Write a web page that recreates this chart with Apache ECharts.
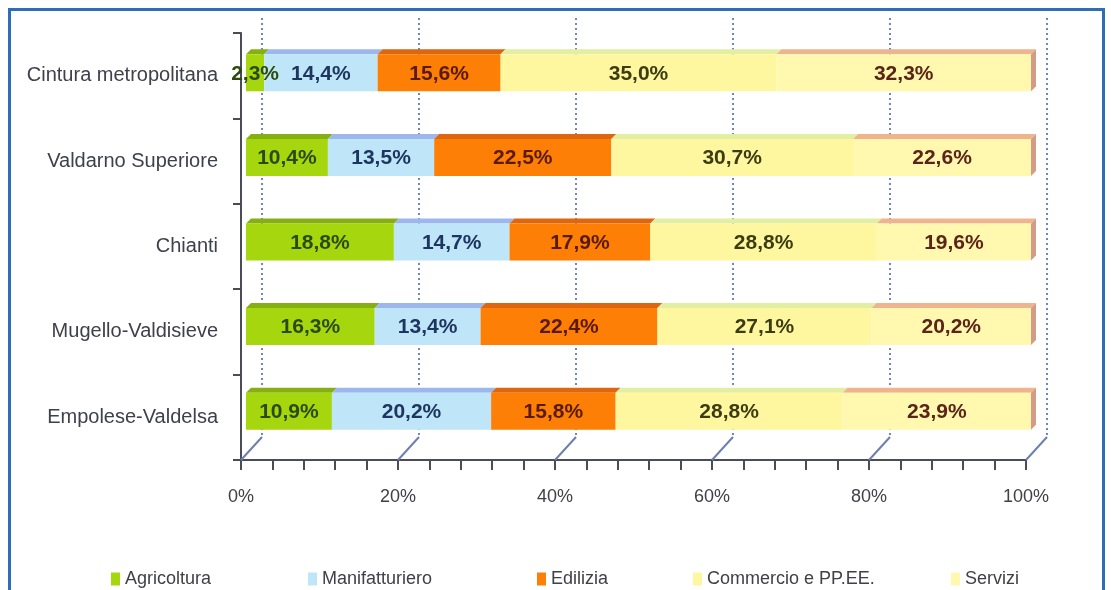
<!DOCTYPE html>
<html>
<head>
<meta charset="utf-8">
<script src="https://cdn.jsdelivr.net/npm/echarts@6/dist/echarts.min.js"></script>
<style>
  html, body { margin: 0; padding: 0; background: #ffffff; }
  #chart { width: 1111px; height: 590px; }
</style>
</head>
<body>
<div id="chart"></div>
<script>
// Territorial areas (top to bottom)
const categories = ['Cintura metropolitana', 'Valdarno Superiore', 'Chianti', 'Mugello-Valdisieve', 'Empolese-Valdelsa'];
const sectors = ['Agricoltura', 'Manifatturiero', 'Edilizia', 'Commercio e PP.EE.', 'Servizi'];

// Share of each sector, in percent
const agricoltura    = [2.3, 10.4, 18.8, 16.3, 10.9];
const manifatturiero = [14.4, 13.5, 14.7, 13.4, 20.2];
const edilizia       = [15.6, 22.5, 17.9, 22.4, 15.8];
const commercio      = [35.0, 30.7, 28.8, 27.1, 28.8];
const servizi        = [32.3, 22.6, 19.6, 20.2, 23.9];

const xTicks = [0, 20, 40, 60, 80, 100];

const FONT = '"Liberation Sans", Arial, sans-serif';

// Pseudo-3D layout: front axes, bars in the middle, back wall behind
const FRONT = { left: 241, right: 1026, top: 33, bottom: 460 };
const BARS  = { left: 246, right: 1031, top: 28, bottom: 451 };
const BACK  = { left: 262, right: 1047, top: 18, bottom: 437 };
const DEPTH = 5;
const BAR_H = 42;

const faceColors  = ['#A6D60E', '#BEE6F8', '#FD7F06', '#FFF7A0', '#FFF8AE'];
const topColors   = ['#86AF12', '#9DB7EC', '#DD660E', '#E2EEA2', '#EDB48E'];
const labelColors = ['#2C4A0C', '#1E3560', '#5A1A02', '#3C3C12', '#5A2418'];
const sideColor   = '#D49C86';

const values = [agricoltura, manifatturiero, edilizia, commercio, servizi];
// 100% stacking: each row is scaled by its own total
const totals = categories.map((c, i) => values.reduce((s, arr) => s + arr[i], 0));

function seriesData(k) {
  return categories.map((c, i) => {
    let start = 0;
    for (let j = 0; j < k; j++) start += values[j][i] / totals[i] * 100;
    const end = start + values[k][i] / totals[i] * 100;
    return [start, end, i, values[k][i]];
  });
}

const fmt = v => v.toFixed(1).replace('.', ',') + '%';

function makeRender(k) {
  return function (params, api) {
    const cat = api.value(2);
    const p0 = api.coord([api.value(0), cat]);
    const p1 = api.coord([api.value(1), cat]);
    const top = p0[1] - BAR_H / 2, bottom = p0[1] + BAR_H / 2;
    const x0 = p0[0], x1 = p1[0], d = DEPTH;
    const children = [
      { type: 'polygon', shape: { points: [[x0, top + d], [x1, top + d], [x1 + d, top], [x0 + d, top]] },
        style: { fill: topColors[k] } },
      { type: 'rect', shape: { x: x0, y: top + d, width: x1 - x0, height: BAR_H - d },
        style: { fill: faceColors[k] } }
    ];
    if (k === values.length - 1) {
      children.push({ type: 'polygon',
        shape: { points: [[x1, top + d], [x1 + d, top], [x1 + d, bottom - d], [x1, bottom]] },
        style: { fill: sideColor } });
    }
    children.push({ type: 'text', z2: 100,
      style: { text: fmt(api.value(3)), x: (x0 + x1) / 2, y: (top + d + bottom) / 2 + 1,
        align: 'center', verticalAlign: 'middle', fill: labelColors[k],
        fontSize: 21, fontWeight: 'bold', fontFamily: FONT } });
    return { type: 'group', children };
  };
}

const legendLeft = [106, 303, 532, 688, 946];

const chart = echarts.init(document.getElementById('chart'), null, { renderer: 'canvas' });

const option = {
  animation: false,
  backgroundColor: '#ffffff',
  grid: [
    { left: BARS.left, width: BARS.right - BARS.left, top: BARS.top, height: BARS.bottom - BARS.top },
    { left: FRONT.left, width: FRONT.right - FRONT.left, top: FRONT.top, height: FRONT.bottom - FRONT.top },
    { left: BACK.left, width: BACK.right - BACK.left, top: BACK.top, height: BACK.bottom - BACK.top }
  ],
  xAxis: [
    { gridIndex: 0, type: 'value', min: 0, max: 100, show: false },
    { gridIndex: 1, type: 'value', min: 0, max: 100, interval: 4,
      axisLine: { show: true, lineStyle: { color: '#4A4D58', width: 2 } },
      axisTick: { show: true, length: 10, lineStyle: { color: '#4A4D58', width: 2 } },
      splitLine: { show: false },
      axisLabel: { margin: 28, fontSize: 18, color: '#404048', fontFamily: FONT,
        formatter: v => (xTicks.indexOf(v) >= 0 ? v + '%' : '') } },
    { gridIndex: 2, type: 'value', min: 0, max: 100, interval: 20,
      axisLine: { show: false }, axisTick: { show: false }, axisLabel: { show: false },
      splitLine: { show: true, lineStyle: { color: '#6F86C2', width: 2, type: [2, 3] } } }
  ],
  yAxis: [
    { gridIndex: 0, type: 'category', data: categories, inverse: true, show: false },
    { gridIndex: 1, type: 'category', data: categories, inverse: true,
      axisLine: { show: true, lineStyle: { color: '#4A4D58', width: 2 } },
      axisTick: { show: true, length: 8, lineStyle: { color: '#4A4D58', width: 2 } },
      axisLabel: { margin: 23, fontSize: 20, color: '#3F404C', fontFamily: FONT } },
    { gridIndex: 2, type: 'value', show: false, splitLine: { show: false } }
  ],
  legend: sectors.map((name, k) => ({
    data: [name], left: legendLeft[k], top: 565, icon: 'rect',
    itemWidth: 9, itemHeight: 13, selectedMode: false,
    textStyle: { fontSize: 18, color: '#404048', fontFamily: FONT }
  })),
  series: sectors.map((name, k) => ({
    name, type: 'custom', xAxisIndex: 0, yAxisIndex: 0,
    itemStyle: { color: faceColors[k] },
    encode: { x: [0, 1], y: 2 },
    renderItem: makeRender(k),
    data: seriesData(k)
  }))
};

chart.setOption(option);

// Floor lines from the front axis ticks back to the wall, plus the outer frame
const floor = xTicks.map(v => {
  const xf = chart.convertToPixel({ xAxisIndex: 1 }, v);
  const xb = chart.convertToPixel({ xAxisIndex: 2 }, v);
  return { type: 'line', z: 1, shape: { x1: xf, y1: FRONT.bottom, x2: xb, y2: BACK.bottom },
    style: { stroke: '#6E7FAF', lineWidth: 2 } };
});
chart.setOption({
  graphic: floor.concat([
    { type: 'rect', z: 10, shape: { x: 9.5, y: 9.5, width: 1094, height: 620 },
      style: { fill: 'none', stroke: '#2F6DB5', lineWidth: 3 } }
  ])
});
</script>
</body>
</html>
